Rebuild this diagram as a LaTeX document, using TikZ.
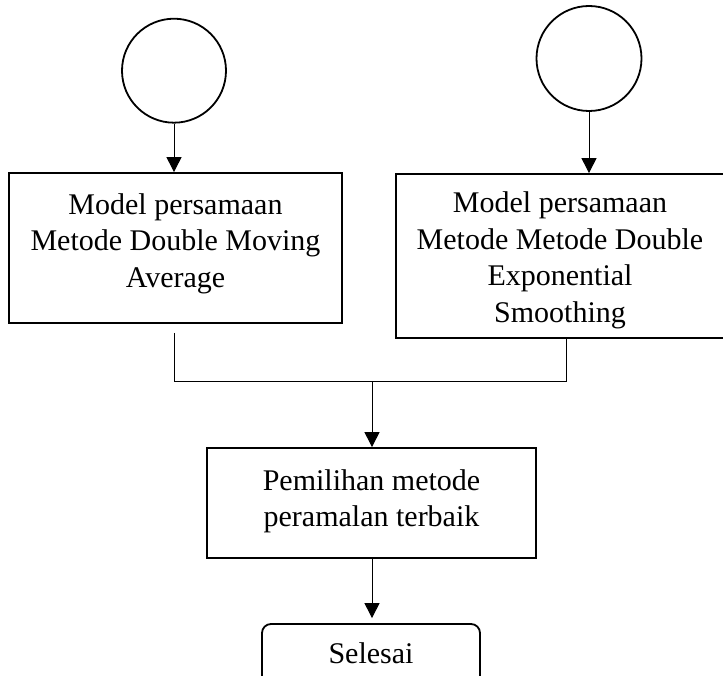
\documentclass[tikz,border=0pt]{standalone}
\usepackage{fontspec}
\setmainfont{Liberation Serif}
\usetikzlibrary{arrows.meta,calc}
\begin{document}
\begin{tikzpicture}[x=1pt,y=-1pt,
  startc/.style={circle,draw,line width=1.8pt,inner sep=0pt,minimum size=104pt},
  procbox/.style={rectangle,draw,line width=1.8pt,align=center,inner sep=0pt,
    font=\fontsize{30}{36.5}\selectfont},
  endbox/.style={rectangle,rounded corners=9pt,draw,line width=1.8pt,align=center,inner sep=0pt,
    font=\fontsize{30}{36.5}\selectfont},
  conn/.style={line width=1pt},
  arr/.style={conn,-{Triangle[width=15pt,length=15pt]}}]
\useasboundingbox (0,0) rectangle (723,676);
\clip (0,0) rectangle (723,676);
\fill[white] (0,0) rectangle (723,676);
\node[startc] (c1) at (174,70.7) {};
\node[startc,minimum size=105pt] (c2) at (589,58.5) {};
\node[procbox,minimum width=333pt,minimum height=150pt] (b1) at (175.5,248)
  {Model persamaan\\Metode Double Moving\\Average\\[-21pt]\mbox{}};
\node[procbox,minimum width=328pt,minimum height=164pt] (b2) at (560,256)
  {\mbox{}\\[-7pt]Model persamaan\\Metode Metode Double\\Exponential\\Smoothing};
\node[procbox,minimum width=329pt,minimum height=110pt] (m) at (371.5,503)
  {Pemilihan metode\\peramalan terbaik\\[-26.5pt]\mbox{}};
\node[endbox,minimum width=218pt,minimum height=66pt] (s) at (371,657) {\raisebox{8pt}{Selesai}};
\coordinate (l1) at (174,333);
\coordinate (j1) at (174,381.7);
\coordinate (j2) at (566,381.7);
\coordinate (jm) at (372,381.7);
\draw[arr] (c1.south) -- (c1.south |- b1.north);
\draw[arr] (c2.south) -- (c2.south |- b2.north);
\draw[conn] (l1) -- (j1) -- (j2) -- (j2 |- b2.south);
\draw[arr] (jm) -- (jm |- m.north);
\draw[arr] (m.south -| jm) -- ([yshift=5pt]s.north -| jm);
\end{tikzpicture}
\end{document}
